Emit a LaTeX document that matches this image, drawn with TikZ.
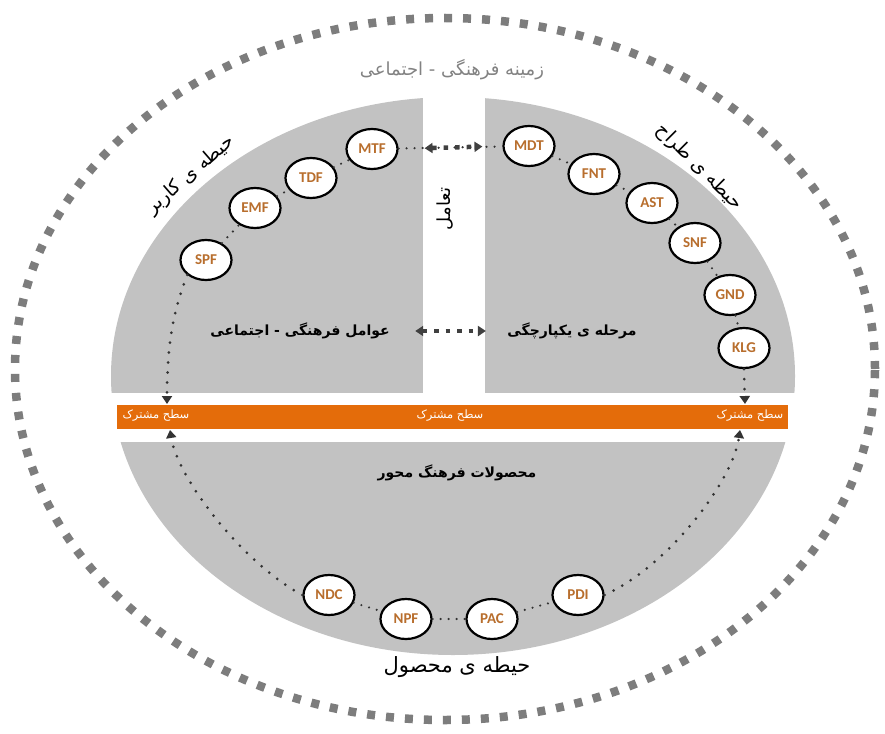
\documentclass[tikz,border=0pt]{standalone}
\usepackage{fontspec}
\usetikzlibrary{shapes.geometric,arrows.meta}
\TeXXeTstate=1
\newfontfamily\fa[Script=Arabic]{DejaVu Sans}
\newfontfamily\labfam{Carlito}
\newcommand{\fatxt}[1]{\fa\beginR #1\endR}
\definecolor{grayfill}{RGB}{194,194,194}
\definecolor{outerdot}{RGB}{125,125,125}
\definecolor{barcol}{RGB}{228,108,10}
\definecolor{labcol}{RGB}{184,110,45}
\definecolor{titlecol}{RGB}{130,130,130}
\tikzset{
  circ/.style={ellipse, draw=black, line width=2.2pt, fill=white, minimum width=51pt, minimum height=40pt, inner sep=0pt, font=\labfam\bfseries\fontsize{15}{15}\selectfont, text=labcol},
  smalldots/.style={draw=black!80, line width=2.4pt, line cap=round, dash pattern=on 0pt off 8pt},
  arrdots/.style={draw=black!80, line width=3pt, line cap=round, dash pattern=on 0pt off 10pt},
  bigdots/.style={draw=black!75, line width=4.5pt, dash pattern=on 4.5pt off 7pt},
  mytip/.tip={Triangle[width=10pt,length=8pt]},
  boldlab/.style={font=\fontsize{14}{14}\selectfont\bfseries, text=black},
  barlab/.style={font=\fontsize{11.5}{11.5}\selectfont, text=white},
  reglab/.style={font=\fontsize{19}{19}\selectfont, text=black},
}
\begin{document}
\begin{tikzpicture}[x=1pt,y=-1pt]
\useasboundingbox (0,0) rectangle (885,733);
% outer dotted ellipse
\draw[outerdot, line width=8.5pt, dash pattern=on 8pt off 11pt] (445,369) ellipse [x radius=430pt, y radius=351pt];
% gray pieces
\begin{scope}
\clip (453,376) ellipse [x radius=342pt, y radius=279pt];
\fill[grayfill] (100,90) rectangle (423,393);
\fill[grayfill] (485,90) rectangle (800,393);
\fill[grayfill] (100,442) rectangle (800,660);
\end{scope}
% bar
\node[fill=barcol, minimum width=671pt, minimum height=24pt, inner sep=0pt] (bar) at (452.5,417) {};
\node[barlab] (b1) at (156,416) {\fatxt{سطح مشترک}};
\node[barlab] (b2) at (450,416) {\fatxt{سطح مشترک}};
\node[barlab] (b3) at (750,416) {\fatxt{سطح مشترک}};
\coordinate (barTL) at (167,404);
\coordinate (barBL) at (170,430);
\coordinate (barTR) at (745,404);
\coordinate (barBR) at (740,430);
% texts
\node[font=\fontsize{18}{18}\selectfont, text=titlecol] (title) at (452,70) {\fatxt{زمینه فرهنگی - اجتماعی}};
\node[reglab, rotate=41] (user) at (191,175) {\fatxt{حیطه ی کاربر}};
\node[reglab, rotate=-45] (designer) at (699,167) {\fatxt{حیطه ی طراح}};
\node[font=\fontsize{21}{21}\selectfont] (product) at (457,667) {\fatxt{حیطه ی محصول}};
\node[font=\fontsize{18}{18}\selectfont, rotate=90] (inter) at (445,209) {\fatxt{تعامل}};
\node[boldlab] (cult) at (300,331) {\fatxt{عوامل فرهنگی - اجتماعی}};
\node[boldlab] (integ) at (572,331) {\fatxt{مرحله ی یکپارچگی}};
\node[boldlab] (prod) at (457,473) {\fatxt{محصولات فرهنگ محور}};
% circles left
\node[circ] (SPF) at (206,260) {SPF};
\node[circ] (EMF) at (255,208) {EMF};
\node[circ] (TDF) at (311,178) {TDF};
\node[circ] (MTF) at (372,149) {MTF};
% circles right
\node[circ] (MDT) at (529,146) {MDT};
\node[circ] (FNT) at (594,174) {FNT};
\node[circ] (AST) at (652,203) {AST};
\node[circ] (SNF) at (695,243) {SNF};
\node[circ] (GND) at (730,295) {GND};
\node[circ] (KLG) at (744,348) {KLG};
% circles bottom
\node[circ] (NDC) at (329,595) {NDC};
\node[circ] (NPF) at (406,619) {NPF};
\node[circ] (PAC) at (492,619) {PAC};
\node[circ] (PDI) at (578,595) {PDI};
% chains
\draw[smalldots] (SPF) -- (EMF);
\draw[smalldots] (EMF) -- (TDF);
\draw[smalldots] (TDF) -- (MTF);
\draw[smalldots] (MDT) -- (FNT);
\draw[smalldots] (FNT) -- (AST);
\draw[smalldots] (AST) -- (SNF);
\draw[smalldots] (SNF) -- (GND);
\draw[smalldots] (GND) -- (KLG);
\draw[smalldots] (NDC) -- (NPF);
\draw[smalldots] (NPF) -- (PAC);
\draw[smalldots] (PAC) -- (PDI);
% interaction arrows
\draw[smalldots] (MTF) -- (MDT);
\draw[bigdots, mytip-mytip, shorten <=26pt, shorten >=20pt] (MTF.east) -- (MDT.west);
\draw[bigdots, mytip-mytip, shorten <=22pt, shorten >=18pt] (cult.east) -- (integ.west);
% to / from bar
\draw[arrdots, -mytip] (SPF.south west) .. controls (178,300) and (167,330) .. (barTL);
\draw[arrdots, -mytip] (KLG.south) -- (barTR);
\draw[arrdots, -mytip] (NDC.west) .. controls (245,565) and (178,480) .. (barBL);
\draw[arrdots, -mytip] (PDI.east) .. controls (670,565) and (733,480) .. (barBR);
\end{tikzpicture}
\end{document}
